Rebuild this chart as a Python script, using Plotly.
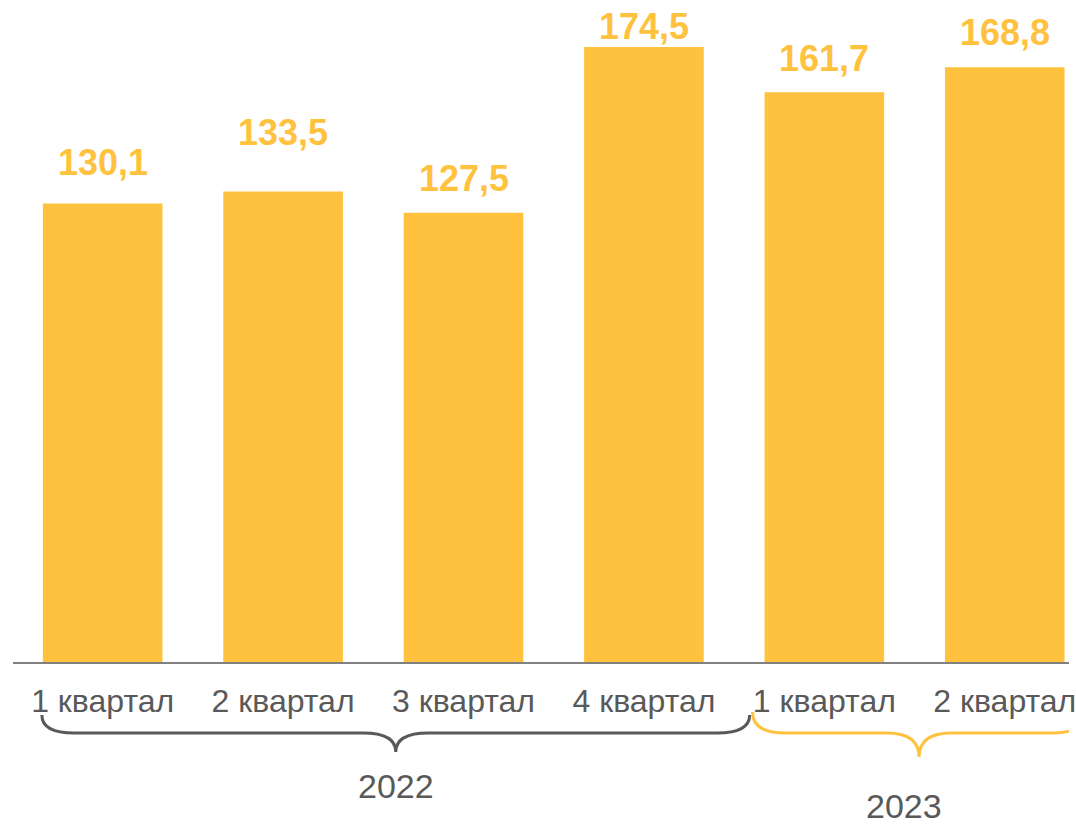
import plotly.graph_objects as go

# data
categories = ["1 квартал", "2 квартал", "3 квартал", "4 квартал", "1 квартал", "2 квартал"]
values = [130.1, 133.5, 127.5, 174.5, 161.7, 168.8]
years = ["2022", "2023"]

# label placement (px above each bar), labels in the source sit unevenly
label_shift = [19, 37, 12, -2, 11, 12]

BAR = "#FFC23E"
GREY = "#595959"
FONT = "Liberation Sans, Arial, sans-serif"

fig = go.Figure()
fig.add_trace(go.Bar(
    x=list(range(len(categories))),
    y=values,
    marker=dict(color=BAR, line=dict(width=0)),
    width=0.663,
    hoverinfo="skip",
))

# value labels above the bars
for i, (v, s) in enumerate(zip(values, label_shift)):
    fig.add_annotation(
        x=i, y=v, xref="x", yref="y",
        text=f"{v:.1f}".replace(".", ","),
        showarrow=False, yanchor="bottom", yshift=s,
        font=dict(family=FONT, size=36, color=BAR, weight="bold"),
    )


def brace(x0, x1, y_top, y_mid, y_tip, r=0.18):
    # curly brace opening downward, x in category units, y in paper units
    xc = (x0 + x1) / 2
    return (f"M {x0},{y_top} Q {x0},{y_mid} {x0 + r},{y_mid} "
            f"L {xc - r},{y_mid} Q {xc},{y_mid} {xc},{y_tip} "
            f"Q {xc},{y_mid} {xc + r},{y_mid} "
            f"L {x1 - r},{y_mid} Q {x1},{y_mid} {x1},{y_top}")


H = 662  # plot area height in px, used to place things below it
def py(px):
    return -(px - H) / H

brace_colors = [GREY, BAR]
brace_ext = [(-0.337, 3.586, 715, 733, 752), (3.602, 5.448, 712, 733, 757)]
year_pos = [(1.624, 786), (4.442, 806)]
for col, (x0, x1, yt, ym, ytip), yr, (yx, yy) in zip(brace_colors, brace_ext, years, year_pos):
    fig.add_shape(
        type="path", xref="x", yref="paper",
        path=brace(x0, x1, py(yt), py(ym), py(ytip)),
        line=dict(color=col, width=3),
    )
    fig.add_annotation(
        x=yx, y=py(yy), xref="x", yref="paper",
        text=yr, showarrow=False, yanchor="middle",
        font=dict(family=FONT, size=34, color=GREY),
    )

fig.update_layout(
    width=1076, height=824,
    margin=dict(l=13, r=0, t=0, b=162),
    paper_bgcolor="white", plot_bgcolor="white",
    showlegend=False,
    xaxis=dict(
        range=[-0.497, 5.356],
        tickmode="array", tickvals=list(range(len(categories))),
        ticktext=categories,
        showline=True, linecolor="#808080", linewidth=2,
        showgrid=False, zeroline=False, ticks="",
        ticklabelstandoff=10, ticklabeloverflow="allow",
        tickfont=dict(family=FONT, size=32, color=GREY),
    ),
    yaxis=dict(
        range=[0, 187.85], visible=False, showgrid=False, zeroline=False,
    ),
)

fig.write_html("out.html", config={"displayModeBar": False},
               post_script="document.body.style.margin='0';")
